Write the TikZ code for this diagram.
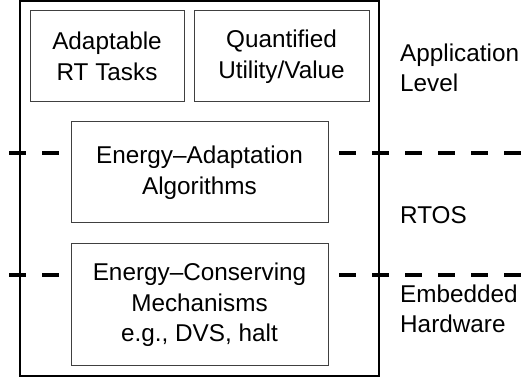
\documentclass[tikz,border=0pt]{standalone}
\usepackage{fontspec}
\setmainfont{Liberation Sans}
\begin{document}
\begin{tikzpicture}[x=1pt,y=-1pt,
  every node/.style={font=\fontsize{24.3}{30.5}\selectfont},
  blk/.style={draw=black!75,line width=1pt,fill=white,align=center,inner sep=0pt},
  lvl/.style={anchor=base west,align=left,inner sep=0pt},
  sep/.style={line width=4pt,dash pattern=on 17pt off 16pt}]
\useasboundingbox (0,0) rectangle (523,379);
\draw[line width=1.2pt] (20,1) rectangle (379,376);
\coordinate (s1a) at (9,153);
\coordinate (s1b) at (523,153);
\coordinate (s2a) at (9,275);
\coordinate (s2b) at (523,275);
\draw[sep] (s1a) -- (s1b);
\draw[sep] (s2a) -- (s2b);
\node[blk,minimum width=154,minimum height=91] (tasks) at (107,56.5) {Adaptable\\RT Tasks};
\node[blk,minimum width=175,minimum height=91] (util) at (281.5,56.5) {Quantified\\Utility/Value};
\node[blk,minimum width=257,minimum height=101] (algo) at (199.5,172.5) {Energy--Adaptation\\Algorithms};
\node[blk,minimum width=257,minimum height=122] (mech) at (199.5,305) {Energy--Conserving\\Mechanisms\\e.g., DVS, halt};
\node[lvl] (app) at (400,92) {Application\\Level};
\node[lvl] (rtos) at (400,224) {RTOS};
\node[lvl] (hw) at (400,333) {Embedded\\Hardware};
\end{tikzpicture}
\end{document}
